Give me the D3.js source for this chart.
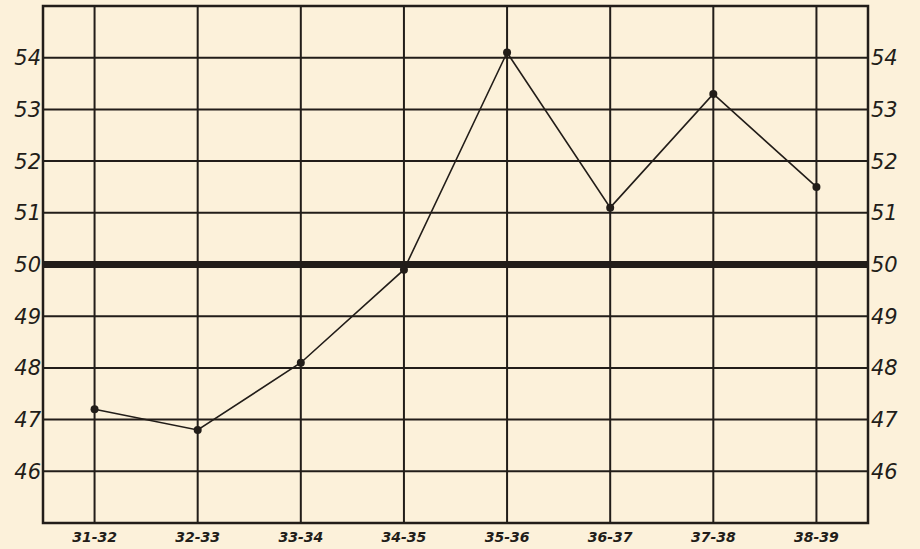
<!DOCTYPE html>
<html>
<head>
  <meta charset="UTF-8">
  <title>Seasons 1931-39</title>
  <style>
    body { margin: 0; background: #fcf1da; }
    svg { display: block; }
    .ylab { font: italic 21px "DejaVu Sans", sans-serif; fill: #221d19; }
    .xlab { font: italic bold 14px "DejaVu Sans", sans-serif; fill: #221d19; }
  </style>
</head>
<body>
  <svg id="chart" width="920" height="549"></svg>

  <script src="https://d3js.org/d3.v7.min.js"></script>
  <script>
    // seasons along the bottom
    var seasons = ["31-32", "32-33", "33-34", "34-35", "35-36", "36-37", "37-38", "38-39"];
    // plotted values
    var values = [47.2, 46.8, 48.1, 49.9, 54.1, 51.1, 53.3, 51.5];
    // labelled gridlines
    var yTicks = [46, 47, 48, 49, 50, 51, 52, 53, 54];

    var ink = "#221d19";
    // note: "top" is taken by window.top, so use other names
    var svg = d3.select("#chart"),
      plotL = 43, plotR = 868, plotT = 6, plotB = 523;

    var x = d3.scalePoint()
      .domain(seasons)
      .range([plotL, plotR])
      .padding(0.5);

    var y = d3.scaleLinear()
      .domain([45, 55])
      .range([plotB, plotT]);

    // horizontal grid (50 drawn heavy)
    svg.append("g").selectAll("line")
      .data(yTicks)
      .enter().append("line")
        .attr("x1", plotL).attr("x2", plotR)
        .attr("y1", function(d) { return y(d); })
        .attr("y2", function(d) { return y(d); })
        .attr("stroke", ink)
        .attr("stroke-width", function(d) { return d == 50 ? 7 : 2; });

    // vertical grid
    svg.append("g").selectAll("line")
      .data(seasons)
      .enter().append("line")
        .attr("x1", function(d) { return x(d); })
        .attr("x2", function(d) { return x(d); })
        .attr("y1", plotT).attr("y2", plotB)
        .attr("stroke", ink)
        .attr("stroke-width", 2);

    // frame
    svg.append("rect")
      .attr("x", plotL).attr("y", plotT)
      .attr("width", plotR - plotL).attr("height", plotB - plotT)
      .attr("fill", "none")
      .attr("stroke", ink)
      .attr("stroke-width", 2.5);

    // y labels both sides
    svg.append("g").selectAll("text")
      .data(yTicks)
      .enter().append("text")
        .attr("class", "ylab")
        .attr("x", plotL - 2)
        .attr("y", function(d) { return y(d); })
        .attr("dy", "0.36em")
        .attr("text-anchor", "end")
        .text(function(d) { return d; });

    svg.append("g").selectAll("text")
      .data(yTicks)
      .enter().append("text")
        .attr("class", "ylab")
        .attr("x", plotR + 3)
        .attr("y", function(d) { return y(d); })
        .attr("dy", "0.36em")
        .attr("text-anchor", "start")
        .text(function(d) { return d; });

    // x labels
    svg.append("g").selectAll("text")
      .data(seasons)
      .enter().append("text")
        .attr("class", "xlab")
        .attr("x", function(d) { return x(d); })
        .attr("y", plotB + 19)
        .attr("text-anchor", "middle")
        .text(function(d) { return d; });

    var pts = seasons.map(function(s, i) { return [s, values[i]]; });

    var line = d3.line()
      .x(function(d) { return x(d[0]); })
      .y(function(d) { return y(d[1]); });

    svg.append("path")
      .datum(pts)
      .attr("d", line)
      .attr("fill", "none")
      .attr("stroke", ink)
      .attr("stroke-width", 1.6);

    svg.append("g").selectAll("circle")
      .data(pts)
      .enter().append("circle")
        .attr("cx", function(d) { return x(d[0]); })
        .attr("cy", function(d) { return y(d[1]); })
        .attr("r", 4)
        .attr("fill", ink);
  </script>
</body>
</html>
